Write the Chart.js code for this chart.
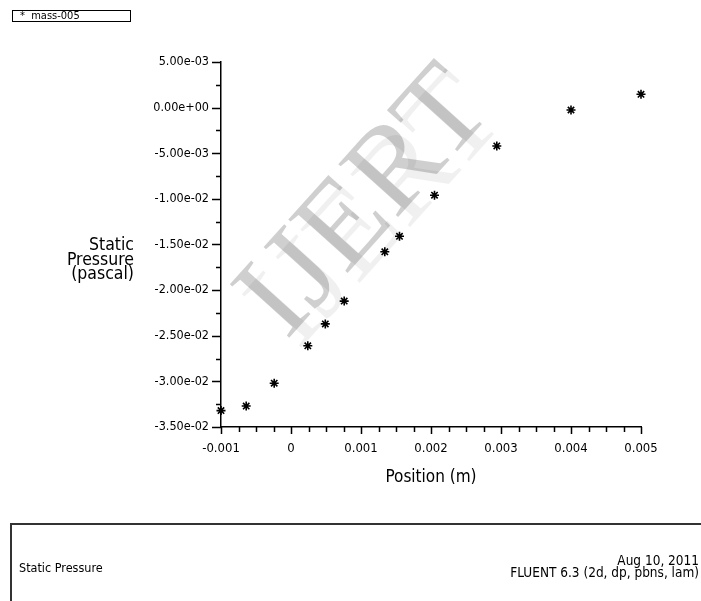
<!DOCTYPE html>
<html>
<head>
<meta charset="utf-8">
<script src="https://cdn.jsdelivr.net/npm/chart.js@4.4.1/dist/chart.umd.min.js"></script>
<style>
  body { margin: 0; background: #fff; }
  #wrap { position: relative; width: 701px; height: 601px; overflow: hidden;
          font-family: "DejaVu Sans Condensed", "Liberation Sans Narrow", sans-serif; color: #000; }
  #plot { position: absolute; left: 0; top: 0; width: 701px; height: 601px; }
  .mark { position: absolute; left: 360px; top: 198px; transform: translate(-50%, -50%) rotate(-48deg);
          font-family: "Liberation Serif", "DejaVu Serif", serif; font-size: 122px; white-space: nowrap;
          color: rgba(0,0,0,0.19); pointer-events: none; }
  .mark.ghost { color: rgba(0,0,0,0.06); margin-left: 12px; margin-top: 10px; }
  #legend { position: absolute; left: 12px; top: 10px; width: 110px; height: 10px; border: 1px solid #000;
            font-size: 11px; line-height: 10px; padding-left: 7px; box-sizing: content-box; }
  #ytitle { position: absolute; right: 567px; top: 237px; text-align: right; font-size: 17.5px; line-height: 14.5px; }
  #xtitle { position: absolute; left: 431px; top: 466px; transform: translateX(-50%); font-size: 17px; }
  #info { position: absolute; left: 10px; top: 523px; right: -4px; bottom: -4px;
          border: 2px solid #333; }
  #info .l { position: absolute; left: 7px; top: 35px; font-size: 12.5px; }
  #info .r { position: absolute; right: 4px; top: 29px; text-align: right; font-size: 13.5px; line-height: 12px; }
</style>
</head>
<body>
<div id="wrap">
  <div class="mark ghost">IJERT</div>
  <div class="mark">IJERT</div>
  <canvas id="plot" width="701" height="601"></canvas>
  <div id="legend">*&nbsp;&nbsp;mass-005</div>
  <div id="ytitle">Static<br>Pressure<br>(pascal)</div>
  <div id="xtitle">Position (m)</div>
  <div id="info">
    <div class="l">Static Pressure</div>
    <div class="r">Aug 10, 2011<br>FLUENT 6.3 (2d, dp, pbns, lam)</div>
  </div>
</div>
<script>
// position along the line (m) and static pressure (Pa)
const positions = [-0.001, -0.00064, -0.00024, 0.00024, 0.00049, 0.00076, 0.00134, 0.00155, 0.00205, 0.00294, 0.0040, 0.0050];
const pressures = [-0.0332, -0.0327, -0.0302, -0.0261, -0.0237, -0.0212, -0.0158, -0.0141, -0.0096, -0.0042, -0.00026, 0.00146];

// major tick values of both axes
const xMajorTicks = [-0.001, 0, 0.001, 0.002, 0.003, 0.004, 0.005];
const yMajorTicks = [-0.035, -0.03, -0.025, -0.02, -0.015, -0.01, -0.005, 0, 0.005];

const FONT = "'DejaVu Sans Condensed', 'Liberation Sans Narrow', sans-serif";

// fluent style exponent label: 5.00e-03
function expLabel(v) {
  if (Math.abs(v) < 1e-12) return "0.00e+00";
  const [m, e] = v.toExponential(2).split("e");
  const n = parseInt(e, 10);
  return m + "e" + (n < 0 ? "-" : "+") + String(Math.abs(n)).padStart(2, "0");
}

function withMinors(majors, parts) {
  const out = [];
  for (let i = 0; i < majors.length; i++) {
    out.push({ value: majors[i], major: true });
    if (i < majors.length - 1) {
      const step = (majors[i + 1] - majors[i]) / parts;
      for (let k = 1; k < parts; k++) out.push({ value: majors[i] + step * k, major: false });
    }
  }
  return out;
}

// short minor ticks, longer majors, drawn outside the axis
const tickMarks = {
  id: "tickMarks",
  afterDraw(chart) {
    const ctx = chart.ctx;
    const xs = chart.scales.x, ys = chart.scales.y;
    ctx.save();
    ctx.strokeStyle = "#000";
    ctx.lineWidth = 1.5;
    ctx.beginPath();
    xs.ticks.forEach((t) => {
      const px = Math.round(xs.getPixelForValue(t.value)) + 0.5;
      ctx.moveTo(px, xs.top);
      ctx.lineTo(px, xs.top + (t.major ? 7 : 5));
    });
    ys.ticks.forEach((t) => {
      const py = Math.round(ys.getPixelForValue(t.value)) + 0.5;
      ctx.moveTo(ys.right, py);
      ctx.lineTo(ys.right - (t.major ? 9 : 5), py);
    });
    ctx.stroke();
    ctx.restore();
  },
};

new Chart(document.getElementById("plot"), {
  type: "scatter",
  data: {
    datasets: [
      {
        label: "mass-005",
        data: positions.map((x, i) => ({ x: x, y: pressures[i] })),
        pointStyle: "star",
        pointRadius: 4.5,
        pointBorderWidth: 1.6,
        borderColor: "#000",
        backgroundColor: "#000",
        clip: false,
      },
    ],
  },
  options: {
    responsive: false,
    animation: false,
    layout: { padding: { left: 0, top: 62, right: 60, bottom: 0 } },
    plugins: { legend: { display: false }, tooltip: { enabled: false } },
    scales: {
      x: {
        type: "linear",
        min: -0.001,
        max: 0.005,
        afterFit(s) { s.height = 174; },
        afterBuildTicks(s) { s.ticks = withMinors(xMajorTicks, 4); },
        grid: { display: false, drawTicks: true, tickLength: 7 },
        border: { display: true, color: "#000", width: 1.5 },
        ticks: {
          autoSkip: false,
          maxRotation: 0,
          padding: 7,
          color: "#000",
          font: { family: FONT, size: 13 },
          callback: (v, i, ticks) => (ticks[i].major ? (v === 0 ? "0" : String(+v.toFixed(3))) : ""),
        },
      },
      y: {
        type: "linear",
        min: -0.035,
        max: 0.005,
        afterFit(s) { s.width = 221; },
        afterBuildTicks(s) { s.ticks = withMinors(yMajorTicks, 2); },
        grid: { display: false, drawTicks: true, tickLength: 9 },
        border: { display: true, color: "#000", width: 1.5 },
        ticks: {
          autoSkip: false,
          padding: 3,
          color: "#000",
          font: { family: FONT, size: 12.5 },
          callback: (v, i, ticks) => (ticks[i].major ? expLabel(v) : ""),
        },
      },
    },
  },
  plugins: [tickMarks],
});
</script>
</body>
</html>
